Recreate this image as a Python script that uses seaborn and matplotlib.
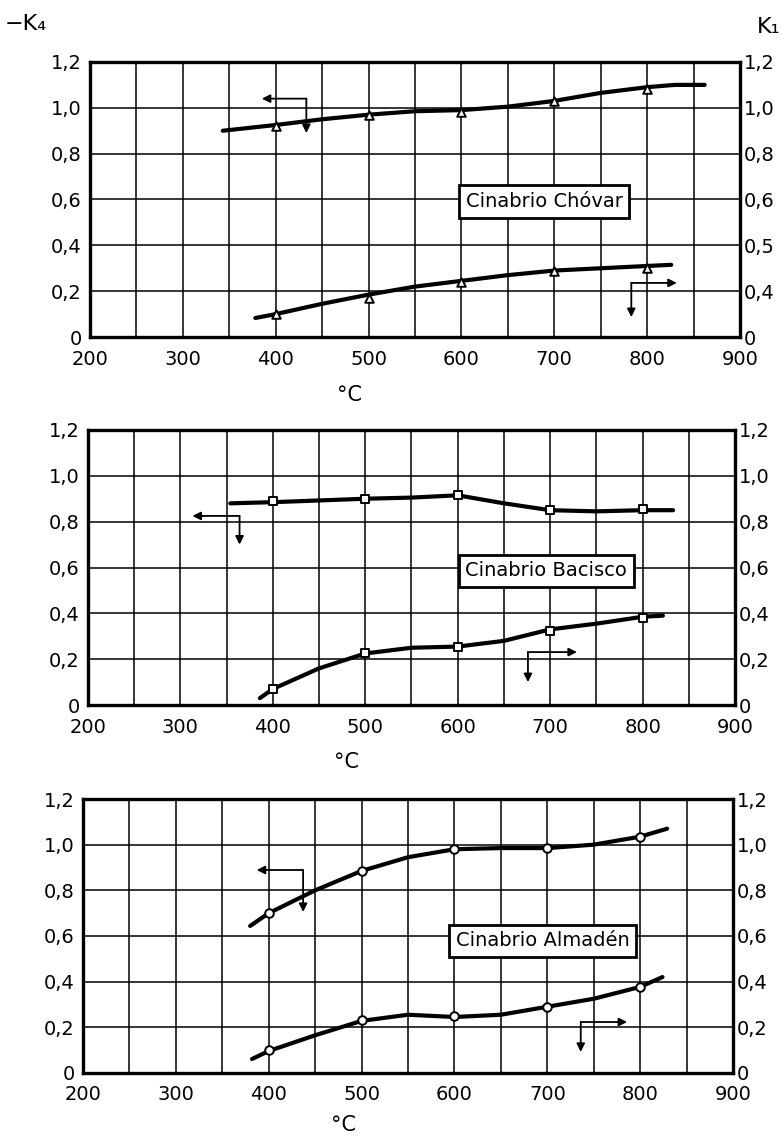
import matplotlib
matplotlib.use("Agg")
import matplotlib.pyplot as plt
import seaborn as sns

# Temperatures (°C) at which measurements were taken
temp_points = [400, 500, 600, 700, 800]

# Cinabrio Chóvar
chovar_k4_curve_t = [343, 400, 450, 500, 550, 600, 650, 700, 750, 800, 830, 862]
chovar_k4_curve_v = [0.90, 0.925, 0.95, 0.97, 0.985, 0.99, 1.005, 1.03, 1.065, 1.09, 1.10, 1.10]
chovar_k4_points = [0.92, 0.97, 0.98, 1.03, 1.08]
chovar_k1_curve_t = [378, 400, 450, 500, 550, 600, 650, 700, 750, 800, 826]
chovar_k1_curve_v = [0.083, 0.10, 0.145, 0.185, 0.22, 0.245, 0.27, 0.29, 0.30, 0.31, 0.315]
chovar_k1_points = [0.10, 0.17, 0.24, 0.29, 0.30]

# Cinabrio Bacisco
bacisco_k4_curve_t = [354, 400, 500, 550, 600, 650, 700, 750, 800, 833]
bacisco_k4_curve_v = [0.88, 0.885, 0.90, 0.905, 0.915, 0.88, 0.85, 0.845, 0.85, 0.85]
bacisco_k4_points = [0.89, 0.90, 0.915, 0.85, 0.855]
bacisco_k1_curve_t = [386, 400, 450, 500, 550, 600, 650, 700, 750, 800, 822]
bacisco_k1_curve_v = [0.03, 0.07, 0.16, 0.225, 0.25, 0.255, 0.28, 0.33, 0.355, 0.385, 0.39]
bacisco_k1_points = [0.07, 0.225, 0.255, 0.325, 0.38]

# Cinabrio Almadén
almaden_k4_curve_t = [380, 400, 450, 500, 550, 600, 650, 700, 750, 800, 829]
almaden_k4_curve_v = [0.644, 0.70, 0.80, 0.885, 0.945, 0.98, 0.985, 0.985, 1.0, 1.035, 1.07]
almaden_k4_points = [0.70, 0.885, 0.98, 0.985, 1.035]
almaden_k1_curve_t = [382, 400, 450, 500, 550, 600, 650, 700, 750, 800, 824]
almaden_k1_curve_v = [0.061, 0.096, 0.165, 0.228, 0.255, 0.245, 0.255, 0.29, 0.325, 0.377, 0.42]
almaden_k1_points = [0.10, 0.23, 0.25, 0.29, 0.375]

# Axis ticks
x_ticks = [200, 300, 400, 500, 600, 700, 800, 900]
y_ticks = [0, 0.2, 0.4, 0.6, 0.8, 1.0, 1.2]
left_labels = ["0", "0,2", "0,4", "0,6", "0,8", "1,0", "1,2"]
right_labels_chovar = ["0", "0,4", "0,5", "0,6", "0,8", "1,0", "1,2"]
right_labels = ["0", "0,2", "0,4", "0,6", "0,8", "1,0", "1,2"]

sns.set_theme(style="white")
plt.rcParams["font.family"] = ["DejaVu Sans"]
plt.rcParams.update({
    "text.color": "black",
    "axes.labelcolor": "black",
    "xtick.color": "black",
    "ytick.color": "black",
    "xtick.labelcolor": "black",
    "ytick.labelcolor": "black",
})

fig = plt.figure(figsize=(7.84, 11.39), dpi=100)

panels = [
    dict(rect=[0.1148, 0.7041, 0.829, 0.2415], name="Cinabrio Chóvar",
         k4=(chovar_k4_curve_t, chovar_k4_curve_v, chovar_k4_points),
         k1=(chovar_k1_curve_t, chovar_k1_curve_v, chovar_k1_points),
         marker="^", rlabels=right_labels_chovar, box=(689, 0.59),
         arr_left=(433, 1.04, 385, 0.89), arr_right=(783, 0.236, 832, 0.087),
         xlabel_y=-0.175),
    dict(rect=[0.1122, 0.381, 0.8253, 0.2415], name="Cinabrio Bacisco",
         k4=(bacisco_k4_curve_t, bacisco_k4_curve_v, bacisco_k4_points),
         k1=(bacisco_k1_curve_t, bacisco_k1_curve_v, bacisco_k1_points),
         marker="s", rlabels=right_labels, box=(696, 0.585),
         arr_left=(364, 0.825, 313, 0.70), arr_right=(676, 0.231, 729, 0.10),
         xlabel_y=-0.17),
    dict(rect=[0.1059, 0.058, 0.8291, 0.2405], name="Cinabrio Almadén",
         k4=(almaden_k4_curve_t, almaden_k4_curve_v, almaden_k4_points),
         k1=(almaden_k1_curve_t, almaden_k1_curve_v, almaden_k1_points),
         marker="o", rlabels=right_labels, box=(695, 0.578),
         arr_left=(437, 0.889, 387, 0.705), arr_right=(736, 0.223, 786, 0.092),
         xlabel_y=-0.155),
]

arrow_props = dict(arrowstyle="-|>", color="black", lw=1.3,
                   mutation_scale=12, shrinkA=0, shrinkB=0)

for p in panels:
    ax = fig.add_axes(p["rect"])
    for (ct, cv, pts) in (p["k4"], p["k1"]):
        sns.lineplot(x=ct, y=cv, ax=ax, color="black", linewidth=3.0,
                     sort=False, zorder=4)
        sns.scatterplot(x=temp_points, y=pts, ax=ax, marker=p["marker"], s=38,
                        facecolor="white", edgecolor="black", linewidth=1.4,
                        zorder=5)

    ax.set_xlim(200, 900)
    ax.set_ylim(0, 1.2)
    ax.set_xticks(x_ticks)
    ax.set_xticklabels([str(t) for t in x_ticks], fontsize=14, color="black")
    ax.set_yticks(y_ticks)
    ax.set_yticklabels(left_labels, fontsize=14, color="black")
    ax.set_xticks(range(250, 900, 100), minor=True)
    ax.grid(True, which="both", color="black", linewidth=1.1)
    ax.tick_params(axis="x", which="both", length=0, pad=9)
    ax.tick_params(axis="y", which="both", length=0, pad=6)
    for s in ax.spines.values():
        s.set_visible(True)
        s.set_color("black")
        s.set_linewidth(2.4)

    ax2 = ax.twinx()
    ax2.set_ylim(0, 1.2)
    ax2.set_yticks(y_ticks)
    ax2.set_yticklabels(p["rlabels"], fontsize=14, color="black")
    ax2.tick_params(axis="y", length=0, pad=3)
    ax2.grid(False)
    for s in ax2.spines.values():
        s.set_visible(False)

    ax.set_xlabel("°C", fontsize=15, color="black")
    ax.xaxis.set_label_coords(0.40, p["xlabel_y"])

    # Series label box
    bx, by = p["box"]
    ax.text(bx, by, p["name"], fontsize=14, ha="center", va="center", zorder=6,
            color="black",
            bbox=dict(boxstyle="square,pad=0.35", facecolor="white",
                      edgecolor="black", linewidth=2.0))

    # Arrows pointing to the relevant axis: -K4 (left) and K1 (right)
    x0, y0, xl, yd = p["arr_left"]
    ax.annotate("", xy=(xl, y0), xytext=(x0, y0), zorder=6, arrowprops=arrow_props)
    ax.annotate("", xy=(x0, yd), xytext=(x0, y0), zorder=6, arrowprops=arrow_props)
    x0, y0, xr, yd = p["arr_right"]
    ax.annotate("", xy=(xr, y0), xytext=(x0, y0), zorder=6, arrowprops=arrow_props)
    ax.annotate("", xy=(x0, yd), xytext=(x0, y0), zorder=6, arrowprops=arrow_props)

fig.text(0.006, 0.988, "−K₄", fontsize=16, ha="left", va="top", color="black")
fig.text(0.995, 0.985, "K₁", fontsize=16, ha="right", va="top", color="black")

fig.savefig("out.png", dpi=100, facecolor="white")
